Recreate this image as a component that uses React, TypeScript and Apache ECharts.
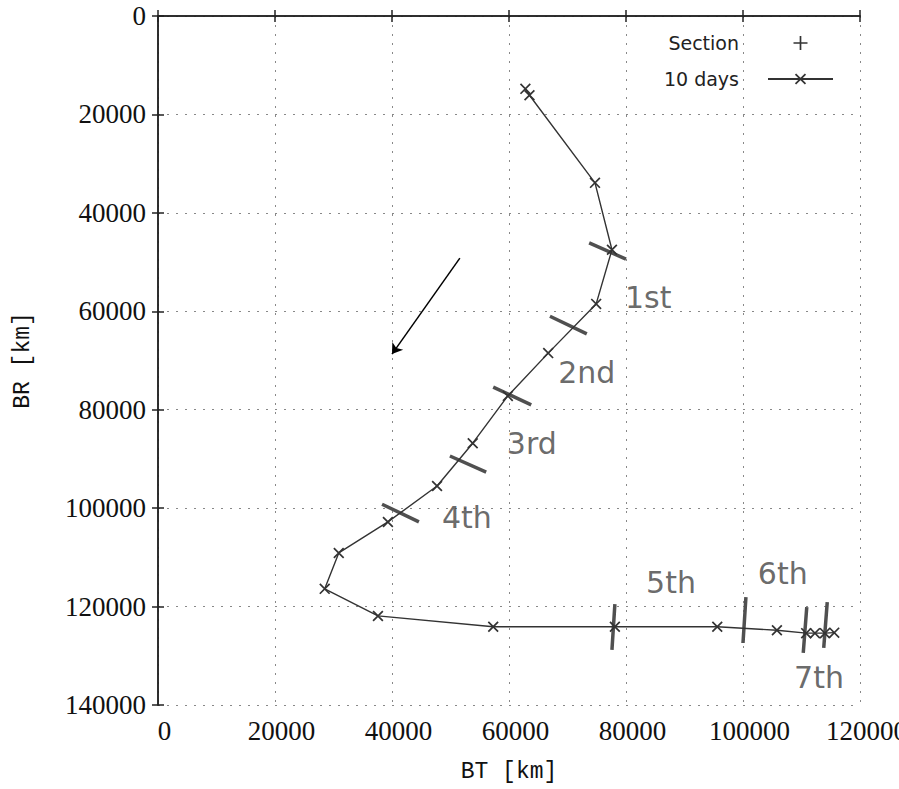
import React, { useEffect, useRef } from "react";
import * as echarts from "echarts";

// ---- data ----
const tenDaysBT = [62800, 63500, 74700, 77600, 74900, 66700, 59800, 53800, 47700, 39300, 30900, 28500, 37600, 57300, 78100, 95600, 105800, 110800, 112300, 114000, 115600];
const tenDaysBR = [14800, 16100, 33900, 47500, 58500, 68500, 77200, 86800, 95500, 102800, 109100, 116400, 121900, 124100, 124100, 124100, 124800, 125400, 125400, 125400, 125300];

const sectionStartBT = [73700, 67000, 57300, 49900, 38300, 78100, 100500, 110900, 114400];
const sectionStartBR = [46100, 61000, 75400, 89400, 99200, 119500, 118100, 120100, 119100];
const sectionEndBT = [80000, 73300, 63800, 56100, 44600, 77600, 100000, 110300, 113800];
const sectionEndBR = [49400, 64600, 79000, 92700, 102800, 128800, 127400, 129400, 128400];

const sectionLabels = ["1st", "2nd", "3rd", "4th", "5th", "6th", "7th"];
const labelBT = [83800, 73300, 63900, 52800, 87700, 106800, 113000];
const labelBR = [57300, 72500, 86800, 101800, 115200, 113200, 134500];

const arrowFrom = [51600, 49200];
const arrowTo = [40000, 68700];

const xMin = 0, xMax = 120000, xStep = 20000;
const yMin = 0, yMax = 140000, yStep = 20000;

const X_PATH = "path://M0,1.1L1.1,0L10,8.9L8.9,10ZM8.9,0L10,1.1L1.1,10L0,8.9Z";
const PLUS_PATH = "path://M0,4.4L10,4.4L10,5.6L0,5.6ZM4.4,0L5.6,0L5.6,10L4.4,10Z";

const SERIF = "Liberation Serif";
const MONO = "Liberation Mono";
const SANS = "DejaVu Sans";

export default function App() {
  const ref = useRef<HTMLDivElement>(null);

  useEffect(() => {
    document.body.style.margin = "0";
    document.documentElement.style.overflow = "hidden";
    if (!ref.current) return;
    const chart = echarts.init(ref.current, null, { renderer: "svg" });

    const tenDays = tenDaysBT.map((x, i) => [x, tenDaysBR[i]]);
    const sections: any[] = [];
    sectionStartBT.forEach((x, i) => {
      sections.push([x, sectionStartBR[i]]);
      sections.push([sectionEndBT[i], sectionEndBR[i]]);
      if (i < sectionStartBT.length - 1) sections.push(["-", "-"]);
    });
    const labels = sectionLabels.map((n, i) => ({ name: n, value: [labelBT[i], labelBR[i]] }));

    const tickFont = { fontFamily: SERIF, fontSize: 27, color: "#111" };
    const axisLine = { show: true, lineStyle: { color: "#222", width: 1.5 } };
    const tick = { show: true, inside: true, length: 6, lineStyle: { color: "#222", width: 1.5 } };
    const grid = { show: true, lineStyle: { color: "#888", width: 1, type: [2, 7] as any } };

    chart.setOption({
      animation: false,
      backgroundColor: "#fff",
      grid: { left: 158, top: 16, right: 39, bottom: 84, containLabel: false, outerBoundsMode: "none" },
      legend: {
        orient: "vertical",
        align: "right",
        right: 65,
        top: 33,
        padding: 0,
        itemWidth: 65,
        itemHeight: 14,
        itemGap: 16,
        selectedMode: false,
        textStyle: { fontFamily: SANS, fontSize: 19, lineHeight: 20, color: "#222", padding: [0, 24, 0, 0] },
        data: [
          { name: "Section", icon: PLUS_PATH, itemStyle: { color: "#333", borderWidth: 0 } },
          { name: "10 days", itemStyle: { borderWidth: 0 } },
        ],
      },
      xAxis: [
        {
          type: "value", position: "bottom", min: xMin, max: xMax, interval: xStep,
          name: "BT [km]", nameLocation: "middle", nameGap: 55,
          nameTextStyle: { fontFamily: MONO, fontSize: 23, color: "#111" },
          axisLine, axisTick: tick, splitLine: grid,
          axisLabel: { ...tickFont, margin: 12, padding: [0, 0, 0, 13], formatter: (v: number) => String(v) },
        },
        {
          type: "value", position: "top", min: xMin, max: xMax, interval: xStep,
          axisLine, axisTick: tick, splitLine: { show: false }, axisLabel: { show: false },
        },
      ],
      yAxis: [
        {
          type: "value", position: "left", inverse: true, min: yMin, max: yMax, interval: yStep,
          name: "BR [km]", nameLocation: "middle", nameGap: 124, nameRotate: 90,
          nameTextStyle: { fontFamily: MONO, fontSize: 23, color: "#111" },
          axisLine, axisTick: tick, splitLine: grid,
          axisLabel: { ...tickFont, margin: 12, formatter: (v: number) => String(v) },
        },
        {
          type: "value", position: "right", inverse: true, min: yMin, max: yMax, interval: yStep,
          axisLine, axisTick: tick, splitLine: { show: false }, axisLabel: { show: false },
        },
      ],
      series: [
        {
          name: "Section",
          type: "line",
          data: sections,
          connectNulls: false,
          showSymbol: false,
          symbol: "none",
          itemStyle: { color: "#333" },
          lineStyle: { color: "#505050", width: 3.5 },
          z: 3,
          silent: true,
        },
        {
          name: "10 days",
          type: "line",
          data: tenDays,
          symbol: X_PATH,
          symbolSize: 11,
          itemStyle: { color: "#333" },
          lineStyle: { color: "#333", width: 1.4 },
          z: 4,
          silent: true,
        },
        {
          name: "labels",
          type: "scatter",
          data: labels,
          symbol: "circle",
          symbolSize: 1,
          itemStyle: { color: "rgba(0,0,0,0)" },
          label: {
            show: true, position: "inside", formatter: "{b}",
            fontFamily: SANS, fontSize: 30, color: "#444",
          },
          silent: true,
          z: 5,
          markLine: {
            silent: true,
            symbol: ["none", "arrow"],
            symbolSize: 10,
            label: { show: false },
            lineStyle: { color: "#000", width: 1.5, type: "solid" },
            data: [[{ coord: arrowFrom }, { coord: arrowTo }]],
          },
        },
      ],
    });

    return () => chart.dispose();
  }, []);

  return <div ref={ref} style={{ width: 899, height: 789 }} />;
}
